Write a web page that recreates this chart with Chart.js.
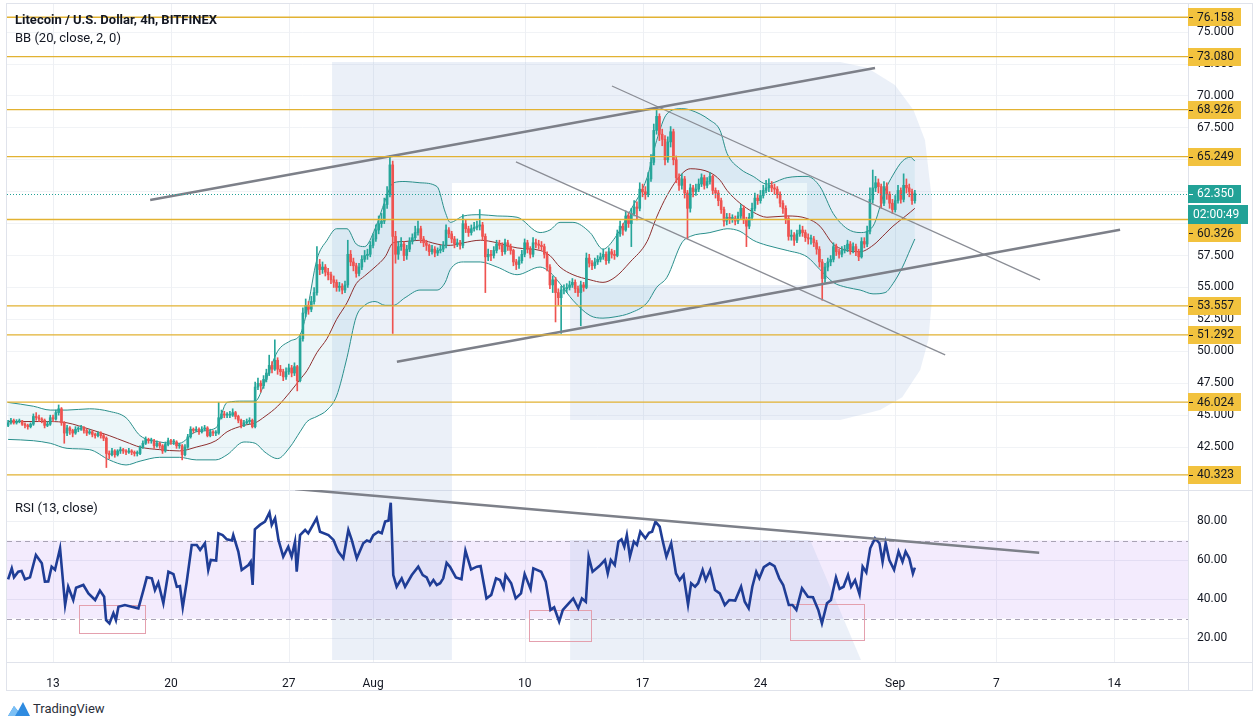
<!DOCTYPE html>
<html>
<head>
<meta charset="utf-8">
<script src="https://cdn.jsdelivr.net/npm/chart.js@4.4.1/dist/chart.umd.min.js"></script>
<style>
  body { margin: 0; background: #fff; width: 1259px; height: 727px; overflow: hidden; position: relative; font-family: Roboto, sans-serif; }
  #mainBox { position: absolute; left: 0; top: 0; width: 1259px; height: 490px; }
  #rsiBox { position: absolute; left: 0; top: 490px; width: 1259px; height: 200px; }
  .line { position: absolute; background: #e0e3eb; }
  .txt { position: absolute; color: #131722; font-size: 13px; white-space: nowrap; z-index: 2; }
  #logo { position: absolute; left: 8px; top: 701px; display: flex; align-items: center; gap: 3px; font-size: 13px; color: #2a2e39; }
</style>
</head>
<body>
<div class="line" style="left:6px;top:3px;width:1247px;height:1px"></div>
<div class="line" style="left:6px;top:490px;width:1247px;height:1px"></div>
<div class="line" style="left:6px;top:662px;width:1247px;height:1px"></div>
<div class="line" style="left:6px;top:690px;width:1247px;height:1px"></div>
<div class="line" style="left:6px;top:3px;width:1px;height:688px"></div>
<div class="line" style="left:1188px;top:3px;width:1px;height:688px"></div>
<div class="line" style="left:1252px;top:3px;width:1px;height:688px"></div>

<div id="mainBox"><canvas id="mainChart"></canvas></div>
<div id="rsiBox"><canvas id="rsiChart"></canvas></div>

<div class="txt" style="left:15px;top:12px;font-weight:700">Litecoin / U.S. Dollar, 4h, BITFINEX</div>
<div class="txt" style="left:15px;top:30px">BB (20, close, 2, 0)</div>
<div class="txt" style="left:15px;top:500px">RSI (13, close)</div>
<div id="logo">
  <svg width="22" height="15" viewBox="0 0 22 15"><path d="M0 15 L6 5 L10 10 L15 1 L22 15 Z" fill="#2f8be0"/><path d="M0 15 L6 5 L10 10 L7 15 Z" fill="#7cc0f5"/></svg>
  <span>TradingView</span>
</div>

<script>
// 4h candles, Jul 10 08:00 -> Sep 2 04:00 (index = candle number)
const firstOpen = 44.2;
const close = [
  44.4,44.6,44.4,44.5,44.55,44.3,44.2,44.1,44.3,44.9,
  44.8,44.7,44.6,44.2,44.3,44.8,44.7,45.2,45.5,44.4,
  43.6,44.0,43.8,43.6,43.9,43.9,44.0,43.8,43.6,43.7,
  43.5,43.4,43.6,43.4,43.2,42.0,41.9,42.2,41.9,42.2,
  42.3,42.2,42.1,42.2,42.1,42.0,42.0,42.5,42.8,43.1,
  43.0,43.0,42.6,42.8,42.6,42.2,42.7,43.0,42.9,42.9,
  42.6,42.6,41.9,42.5,43.3,43.9,43.8,43.9,43.7,43.9,
  44.0,43.4,43.7,43.6,43.6,44.8,45.1,45.0,45.0,45.0,
  45.2,44.9,44.6,44.2,44.4,44.5,44.6,44.1,47.2,47.5,
  47.3,47.8,48.3,48.9,48.6,49.3,48.6,48.4,48.0,48.4,
  48.7,48.3,48.8,47.7,51.0,53.0,53.6,53.3,53.9,54.6,
  56.8,56.4,56.6,56.2,56.0,55.6,55.4,55.0,55.1,54.8,
  55.2,57.6,57.0,56.7,56.1,56.6,57.2,57.5,57.6,58.3,
  58.8,59.5,60.0,60.2,61.5,62.3,64.6,59.0,57.6,58.2,
  58.4,57.5,58.0,58.6,58.9,59.3,59.6,58.8,58.5,58.3,
  57.8,58.0,57.7,57.9,58.0,58.3,59.5,59.2,58.8,58.4,
  58.5,58.3,60.0,59.6,59.3,59.6,59.7,59.8,59.9,59.0,
  57.4,57.6,57.5,57.9,58.4,58.3,57.8,58.5,58.2,57.9,
  57.0,56.8,57.1,57.6,58.5,58.0,57.6,58.5,58.4,58.3,
  58.2,57.6,56.6,55.2,55.6,54.6,54.2,54.8,54.9,55.0,
  55.2,55.4,54.9,54.6,55.2,55.0,57.3,56.9,56.7,57.0,
  57.2,57.4,57.6,57.1,57.8,57.6,57.5,59.2,59.8,59.5,
  60.6,60.0,60.8,61.3,61.2,62.7,62.5,62.3,63.5,64.8,
  67.3,68.4,67.0,66.6,65.0,66.4,67.2,65.0,63.6,63.0,
  63.5,62.4,61.2,62.8,62.5,62.7,63.1,63.6,63.0,63.3,
  63.7,62.6,62.4,61.8,61.1,60.2,60.5,60.4,60.4,60.2,
  60.6,61.2,60.3,59.8,60.5,61.2,62.0,61.8,62.2,62.6,
  62.8,63.0,62.8,62.7,62.3,61.6,61.2,60.4,59.0,59.1,
  58.7,59.2,59.5,59.3,58.9,58.8,58.8,58.5,58.0,57.0,
  55.7,56.6,57.0,57.2,58.2,57.8,57.6,57.9,58.0,58.4,
  57.9,58.2,57.8,57.4,58.6,58.4,59.4,61.9,62.8,63.2,
  62.9,61.6,62.9,62.3,61.6,61.1,61.8,62.6,61.9,63.0,
  62.8,62.5,61.8,62.35
];
const high = [
  44.6,44.75,44.7,44.65,44.7,44.6,44.4,44.3,44.4,45.1,
  45.2,45.0,44.8,44.7,44.5,45.0,45.0,45.4,45.8,45.6,
  44.5,44.2,44.1,43.9,44.1,44.1,44.2,44.1,43.9,43.9,
  43.8,43.6,43.7,43.7,43.5,43.3,42.2,42.4,42.3,42.3,
  42.5,42.4,42.3,42.4,42.3,42.2,42.2,42.6,43.0,43.3,
  43.2,43.2,43.1,43.0,42.9,42.7,42.9,43.2,43.1,43.1,
  43.0,42.8,42.7,42.7,43.5,44.1,44.0,44.1,44.0,44.1,
  44.2,44.1,43.9,43.8,43.8,46.0,45.4,45.3,45.2,45.3,
  45.5,45.3,45.0,44.7,44.6,44.7,44.8,44.7,47.6,47.9,
  47.7,48.1,48.6,49.7,49.2,50.9,49.5,48.9,48.6,48.7,
  49.0,48.9,49.1,48.9,51.3,53.4,54.1,53.9,54.3,55.0,
  58.2,57.2,57.0,56.8,56.5,56.2,55.9,55.6,55.4,55.3,
  55.5,58.7,57.9,57.3,56.9,56.9,57.5,57.9,58.0,58.6,
  59.2,59.9,60.6,60.8,62.0,62.9,65.3,64.9,59.4,58.6,
  58.9,58.6,58.3,58.9,59.2,59.8,60.2,59.8,59.0,58.7,
  58.4,58.3,58.2,58.1,58.3,58.6,59.9,59.7,59.4,59.0,
  58.8,58.7,60.7,60.3,59.8,59.9,60.1,60.2,61.1,60.1,
  59.2,58.0,57.9,58.2,58.7,58.7,58.5,58.8,58.7,58.4,
  58.0,57.2,57.4,57.9,58.8,58.7,58.2,58.9,58.8,58.7,
  58.6,58.4,57.8,56.8,55.9,55.8,54.9,55.1,55.2,55.3,
  55.5,55.7,55.6,55.1,55.5,55.4,57.7,57.6,57.1,57.3,
  57.5,57.7,58.0,57.8,58.1,58.0,57.9,59.5,60.2,60.0,
  61.0,60.9,61.2,61.8,61.7,63.2,63.1,62.9,64.0,65.4,
  67.8,69.1,68.6,67.4,66.9,66.8,67.6,67.4,65.3,63.9,
  63.9,63.7,62.6,63.1,63.0,63.1,63.5,63.9,63.8,63.6,
  64.0,63.8,62.8,62.6,62.0,61.3,60.8,60.8,60.7,60.6,
  60.9,61.5,61.4,60.5,60.8,61.6,62.4,62.3,62.6,63.0,
  63.4,63.5,63.3,63.1,62.9,62.5,61.8,61.4,60.6,59.5,
  59.3,59.5,59.9,59.8,59.5,59.2,59.1,59.0,58.7,58.2,
  57.2,56.9,57.3,57.5,58.5,58.4,58.0,58.2,58.3,58.7,
  58.6,58.5,58.4,58.0,58.9,58.9,59.8,62.8,64.2,63.7,
  63.5,63.1,63.3,63.2,62.5,61.9,62.2,63.0,62.8,63.9,
  63.5,63.1,62.7,62.6
];
const low = [
  44.1,44.3,44.3,44.3,44.4,44.2,44.0,43.9,44.0,44.2,
  44.6,44.5,44.4,44.0,44.1,44.2,44.5,44.6,45.0,44.2,
  42.8,43.4,43.5,43.3,43.5,43.7,43.8,43.6,43.4,43.5,
  43.3,43.2,43.3,43.2,43.0,40.9,41.6,41.8,41.7,41.8,
  42.0,42.0,41.9,42.0,41.9,41.8,41.8,41.9,42.4,42.7,
  42.8,42.8,42.4,42.5,42.4,42.0,42.1,42.6,42.7,42.7,
  42.4,42.4,41.5,41.8,42.4,43.2,43.6,43.7,43.5,43.6,
  43.8,43.3,43.3,43.4,43.4,43.5,44.7,44.8,44.8,44.8,
  44.9,44.7,44.4,44.0,44.1,44.3,44.3,44.0,44.0,47.0,
  46.8,47.1,47.6,48.1,48.3,48.5,48.2,48.1,47.7,47.8,
  48.2,48.0,48.1,46.9,47.6,50.8,52.7,52.9,53.1,53.7,
  54.4,56.0,56.1,55.9,55.6,55.3,55.0,54.7,54.7,54.5,
  54.6,55.0,56.7,56.3,55.8,55.9,56.4,57.0,57.2,57.4,
  58.1,58.6,59.2,59.7,60.0,61.2,62.1,51.4,56.9,57.2,
  57.9,57.1,57.2,57.8,58.4,58.7,59.1,58.5,58.2,57.9,
  57.5,57.6,57.4,57.5,57.7,57.8,58.1,58.9,58.5,58.1,
  58.2,58.0,58.1,59.3,59.0,59.1,59.4,59.5,59.5,58.7,
  54.6,57.1,57.1,57.3,57.7,58.0,57.5,57.6,57.9,57.6,
  56.7,56.4,56.5,56.9,57.4,57.7,57.3,57.4,58.1,58.0,
  57.9,57.3,56.3,54.9,54.6,52.3,53.6,51.4,54.5,54.6,
  54.8,55.0,54.6,54.3,52.0,54.7,54.9,56.6,56.4,56.5,
  56.8,57.0,57.2,56.8,56.9,57.3,57.2,57.4,59.0,59.1,
  59.4,59.7,58.2,60.6,60.3,61.0,62.1,61.9,62.1,63.3,
  64.6,67.0,66.5,66.1,64.6,64.8,66.0,64.6,63.2,62.6,
  62.7,62.0,58.8,60.9,62.1,62.2,62.5,62.9,62.7,62.8,
  63.1,62.3,62.0,61.4,60.8,59.8,59.9,60.0,60.1,59.9,
  60.0,60.4,60.0,58.2,59.6,60.3,61.0,61.5,61.6,62.0,
  62.4,62.5,62.5,62.3,62.0,61.3,60.8,60.0,58.7,58.7,
  58.3,58.5,59.0,59.0,58.6,58.4,58.4,58.2,57.6,56.6,
  54.0,55.4,56.3,56.7,57.0,57.5,57.3,57.4,57.7,57.8,
  57.6,57.7,57.5,57.1,57.3,58.1,58.2,59.2,61.6,62.5,
  62.4,61.2,61.4,61.9,61.2,60.8,60.9,61.6,61.6,61.7,
  62.4,62.1,61.5,61.6
];

// Bollinger Bands (20, 2): [candle, upper, basis, lower]
const bbPoints = [
  [0,46.0,44.5,43.1],[9,45.7,44.5,43.0],[15,45.4,44.5,42.8],[21,45.4,44.4,42.4],
  [29,45.5,43.9,42.3],[36,45.3,43.4,41.5],[42,44.8,42.9,41.1],[47,43.4,42.5,41.4],
  [54,42.9,42.3,41.7],[61,42.8,42.2,41.7],[67,43.7,42.5,41.5],[74,44.0,43.0,41.5],
  [78,46.0,43.7,41.9],[84,46.1,44.2,42.9],[88,46.1,44.4,42.8],[91.5,47.6,44.9,42.1],
  [96,50.0,45.7,41.6],[100.4,50.8,46.8,42.5],[104,51.3,47.8,43.7],[106.5,53.2,48.5,44.5],
  [110,57.2,49.9,44.9],[113.6,58.7,51.0,45.4],[117,59.6,52.5,46.5],[120.7,59.6,53.8,49.5],
  [124,58.4,55.3,52.7],[127,58.2,55.9,53.6],[130.7,59.6,56.6,53.9],[134.3,61.8,57.4,53.6],
  [137.2,63.2,58.5,53.6],[141.4,63.3,58.6,54.2],[146.7,63.2,58.7,54.8],[152.8,62.9,58.4,54.8],
  [155.7,60.9,58.3,55.4],[157.5,60.1,58.3,56.4],[162.2,60.6,58.5,57.0],[168.2,60.7,58.7,57.0],
  [174.2,60.6,58.5,56.6],[181.3,60.5,58.1,56.0],[189.5,59.3,57.9,56.6],[193,59.5,57.5,56.2],
  [196.6,60.1,56.6,55.3],[201.2,60.1,56.0,54.0],[207.3,59.3,55.6,52.8],[211.9,58.0,55.4,52.6],
  [216.2,58.9,55.8,52.7],[221.6,61.0,57.0,53.0],[227.6,63.6,58.6,53.8],[231,66.5,60.5,55.0],
  [234.7,68.6,62.2,55.8],[240,69.0,63.9,58.5],[243,68.9,64.3,59.0],[250,68.1,64.0,59.3],
  [253.6,67.3,63.4,59.5],[256.1,65.5,62.6,59.6],[260.7,64.3,61.6,59.4],[265.4,63.7,60.9,58.7],
  [270.3,63.1,60.5,58.3],[277.5,63.6,60.6,57.9],[284.6,63.7,60.4,57.4],[289.2,62.9,59.8,56.4],
  [293.9,60.8,58.4,55.4],[298.9,59.6,57.9,55.0],[303.5,59.3,57.8,54.8],[308.1,59.8,58.3,54.5],
  [312.4,62.6,59.2,54.6],[315.2,63.8,59.8,55.3],[318.6,64.9,60.4,56.6],[321.4,65.2,60.9,58.0],
  [323,64.9,61.2,58.8]
];

// RSI (13): [candle, value]
const rsiPoints = [
  [0,50.1],[1.3,55.7],[2.1,51.1],[3.6,54.0],[4.8,54.4],[6.0,50.1],[7.8,51.1],[9.9,62.6],
  [12.0,58.3],[13.1,48.9],[14.3,49.0],[15.5,56.6],[16.7,55.0],[18.5,66.0],[20.3,36.9],[21.4,46.3],
  [23.2,39.5],[24.2,45.8],[26.8,47.2],[28.6,42.9],[31.0,39.5],[32.7,44.3],[34.2,41.2],[34.9,29.2],
  [36.1,27.5],[37.5,32.7],[38.4,29.2],[39.3,36.0],[41.6,36.9],[44.0,36.0],[46.4,35.2],[48.2,44.6],
  [49.4,51.1],[51.2,50.6],[52.3,44.6],[53.5,48.4],[55.3,37.8],[57.1,54.0],[58.9,52.8],[60.1,46.3],
  [61.2,46.6],[62.2,35.7],[63.6,48.6],[65.4,67.7],[67.2,67.7],[68.4,65.1],[70.1,68.6],[71.3,54.9],
  [72.2,60.0],[74.1,59.7],[74.9,73.7],[76.4,72.8],[77.9,70.6],[79.7,70.0],[80.2,72.8],[82.0,64.3],
  [83.2,54.9],[85.6,57.4],[86.4,59.1],[87.1,47.2],[87.9,75.7],[89.7,78.0],[91.5,79.7],[93.1,84.3],
  [93.9,78.0],[95.1,81.4],[96.3,70.3],[98.0,61.7],[99.8,66.8],[101.0,61.7],[102.2,69.4],[102.8,54.0],
  [104.0,72.8],[105.8,75.4],[106.9,73.7],[109.9,81.4],[111.1,74.5],[114.1,72.8],[115.9,70.3],[117.6,64.3],
  [119.4,60.9],[121.2,75.4],[122.4,70.3],[124.2,60.9],[126.5,68.6],[127.8,70.0],[128.9,69.4],[130.1,72.8],
  [131.9,74.5],[133.1,73.7],[134.3,79.7],[135.5,80.2],[136.3,89.4],[137.2,52.3],[138.4,46.3],[140.2,50.6],
  [141.4,46.3],[143.8,52.3],[146.1,56.6],[147.7,52.3],[149.1,51.1],[150.3,47.2],[151.5,49.7],[152.7,47.2],
  [153.9,48.1],[155.0,50.6],[156.2,58.5],[157.4,56.5],[159.5,51.1],[161.5,50.1],[162.9,64.8],[164.9,55.2],
  [167.0,56.6],[168.3,56.9],[170.4,40.3],[172.1,42.1],[173.8,50.6],[175.2,49.7],[176.5,45.5],[177.2,52.3],
  [179.2,48.1],[180.8,40.3],[182.7,42.9],[184.0,52.8],[186.1,45.2],[187.1,55.7],[189.9,54.0],[191.5,48.9],
  [193.2,34.4],[194.5,35.7],[195.6,31.3],[196.3,28.4],[197.6,34.4],[199.7,37.8],[201.3,40.3],[203.1,35.2],
  [204.4,40.3],[205.8,38.6],[206.8,61.7],[208.2,54.0],[210.6,56.9],[212.6,60.0],[213.6,53.1],[214.7,60.0],
  [216.1,57.4],[217.4,69.4],[218.5,70.6],[219.5,66.8],[220.4,72.8],[221.5,61.7],[222.9,69.4],[224.0,67.7],
  [225.2,74.5],[227.0,71.1],[228.3,73.9],[229.4,74.5],[230.6,79.7],[232.1,77.1],[233.1,70.3],[234.5,61.7],
  [236.2,68.6],[237.9,53.1],[239.2,49.7],[240.6,52.3],[242.2,37.1],[243.3,48.1],[244.7,46.3],[245.8,48.1],
  [247.4,54.9],[248.5,49.7],[250.1,54.9],[251.8,44.6],[253.5,42.9],[255.3,36.9],[256.9,39.5],[259.0,39.2],
  [261.1,46.3],[262.4,38.6],[263.8,35.2],[265.1,46.3],[266.5,54.0],[267.6,50.6],[269.2,56.3],[271.3,58.3],
  [273.0,56.9],[274.7,50.6],[276.1,47.2],[278.1,36.9],[279.4,36.9],[280.8,34.4],[282.8,45.5],[284.9,41.2],
  [286.7,40.9],[288.6,34.4],[289.9,27.5],[291.7,37.8],[293.1,39.5],[294.9,51.1],[296.2,45.2],[297.6,46.3],
  [299.2,52.3],[300.3,46.3],[301.7,49.7],[303.3,42.4],[304.4,56.6],[305.7,53.6],[307.1,66.0],[308.8,71.1],
  [310.4,68.6],[311.5,59.1],[312.6,68.6],[313.9,60.0],[315.6,55.0],[317.2,64.3],[318.6,59.1],[319.7,64.3],
  [321.0,60.9],[322.3,53.1],[323.0,56.1]
];

const dateTicks = [16, 58, 100, 130, 184, 226, 268, 316, 352, 394];
const dateLabels = ['13', '20', '27', 'Aug', '10', '17', '24', 'Sep', '7', '14'];
const priceTicks = [42.5, 45, 47.5, 50, 52.5, 55, 57.5, 60, 62.5, 65, 67.5, 70, 72.5, 75];
const rsiTicks = [20, 40, 60, 80];
const levels = [76.158, 73.080, 68.926, 65.249, 60.326, 53.557, 51.292, 46.024, 40.323];
const lastPrice = 62.350;
const countdown = '02:00:49';

// drawn trend lines: [[candle, price], [candle, price]]
const wedgeLines = [[[50.6, 61.85], [308.8, 72.19]], [[138.5, 49.18], [396.1, 59.52]]];
const channelLines = [[[215.1, 70.78], [367.6, 55.59]], [[180.9, 64.83], [333.8, 49.72]]];
const rsiTrend = [[102.2, 96.4], [367.3, 63.7]];
// oversold boxes on RSI: [fromCandle, toCandle, topRsi, bottomRsi]
const rsiBoxes = [[25.3, 48.8, 36.9, 22.6], [185.6, 207.7, 34.4, 18.5], [278.5, 304.9, 37.4, 19.0]];

const GREEN = '#26a69a', RED = '#ef5350', GOLD = '#e2b232', TAG = '#f2c23e', TEAL = '#22a297', INK = '#131722';
const X_MIN = -0.4, X_MAX = 420.3;

Chart.defaults.font.family = 'Roboto';
Chart.defaults.font.size = 12;
Chart.defaults.color = INK;

const open = close.map((c, i) => i ? close[i - 1] : firstOpen);
const candleColor = close.map((c, i) => c >= open[i] ? GREEN : RED);

const pts = (arr, k) => arr.map(r => ({ x: r[0], y: r[k] }));
const seg = s => s.map(p => ({ x: p[0], y: p[1] }));

// faint logo watermark, in candle / price units
const logoMain = [[115.4,72.66],[296.4,72.66],[306,72.2],[315.9,70.86],[322.5,68.9],[326.6,66.55],[329.1,61.85],
  [329.1,54.02],[327.8,50.9],[324.9,48.54],[318.5,46.4],[310.6,45.41],[296.4,44.63],[200.2,44.63],[200.2,55.2],
  [284.6,55.2],[284.6,63.18],[158.1,63.18],[158.1,39.0],[115.4,39.0]];
const logoRsi = [
  [[115.4,97],[158.1,97],[158.1,8.7],[115.4,8.7]],
  [[200.2,70.3],[285.7,70.3],[303.8,8.7],[200.2,8.7]]
];
const LOGO_FILL = 'rgba(165,188,222,0.22)';

function poly(ctx, x, y, shape) {
  ctx.beginPath();
  shape.forEach((p, i) => {
    const px = x.getPixelForValue(p[0]), py = y.getPixelForValue(p[1]);
    if (i) ctx.lineTo(px, py); else ctx.moveTo(px, py);
  });
  ctx.closePath();
  ctx.fill();
}

function vGrid(chart) {
  const { ctx, chartArea: a, scales: { x } } = chart;
  ctx.save();
  ctx.strokeStyle = '#eef0f4';
  ctx.lineWidth = 1;
  dateTicks.forEach(t => {
    const px = Math.round(x.getPixelForValue(t)) + 0.5;
    ctx.beginPath(); ctx.moveTo(px, a.top); ctx.lineTo(px, a.bottom); ctx.stroke();
  });
  ctx.restore();
}

function tag(ctx, left, cy, w, text, fill, color) {
  ctx.fillStyle = fill;
  ctx.fillRect(left, Math.round(cy) - 9, w, 18);
  ctx.fillStyle = color;
  ctx.fillRect(left + 1, Math.round(cy), 4, 1);
  ctx.fillText(text, left + 9, cy + 0.5);
}

// keep the plot area exactly where the frame is
const noPad = s => { s.paddingTop = 0; s.paddingBottom = 0; s.paddingLeft = 0; s.paddingRight = 0; };

const mainDecor = {
  id: 'mainDecor',
  beforeDatasetsDraw(chart) {
    const { ctx, scales: { x, y } } = chart;
    vGrid(chart);
    ctx.save();
    ctx.fillStyle = LOGO_FILL;
    poly(ctx, x, y, logoMain);
    ctx.restore();
  },
  afterDatasetsDraw(chart) {
    const { ctx, chartArea: a, scales: { y } } = chart;
    ctx.save();
    ctx.lineWidth = 1.4;
    ctx.strokeStyle = GOLD;
    levels.forEach(v => {
      const py = y.getPixelForValue(v);
      ctx.beginPath(); ctx.moveTo(a.left, py); ctx.lineTo(a.right, py); ctx.stroke();
    });
    const lastY = y.getPixelForValue(lastPrice);
    ctx.lineWidth = 1;
    ctx.strokeStyle = TEAL;
    ctx.setLineDash([1, 2]);
    ctx.beginPath(); ctx.moveTo(a.left, Math.round(lastY) + 0.5); ctx.lineTo(a.right, Math.round(lastY) + 0.5); ctx.stroke();
    ctx.setLineDash([]);

    ctx.font = '12px Roboto';
    ctx.textBaseline = 'middle';
    ctx.textAlign = 'left';
    const cdTop = Math.round(lastY) + 11, cdBot = cdTop + 19;
    levels.forEach(v => {
      let cy = y.getPixelForValue(v);
      if (cy + 9 > cdTop && cy - 9 < cdBot) cy = cdBot + 9;
      tag(ctx, a.right, cy, 53, v.toFixed(3), TAG, INK);
    });
    tag(ctx, a.right, lastY, 53, lastPrice.toFixed(3), TEAL, '#ffffff');
    ctx.fillStyle = TEAL;
    ctx.fillRect(a.right, cdTop, 60, 19);
    ctx.fillStyle = '#ffffff';
    ctx.fillText(countdown, a.right + 5, cdTop + 10);
    ctx.restore();
  }
};

const rsiDecor = {
  id: 'rsiDecor',
  beforeDatasetsDraw(chart) {
    const { ctx, chartArea: a, scales: { x, y } } = chart;
    vGrid(chart);
    ctx.save();
    const y70 = y.getPixelForValue(70), y30 = y.getPixelForValue(30);
    ctx.fillStyle = 'rgba(150,70,240,0.11)';
    ctx.fillRect(a.left, y70, a.right - a.left, y30 - y70);
    ctx.fillStyle = LOGO_FILL;
    logoRsi.forEach(s => poly(ctx, x, y, s));
    ctx.strokeStyle = '#a9a3b5';
    ctx.lineWidth = 1;
    ctx.setLineDash([5, 4]);
    [y70, y30].forEach(py => {
      ctx.beginPath(); ctx.moveTo(a.left, Math.round(py) + 0.5); ctx.lineTo(a.right, Math.round(py) + 0.5); ctx.stroke();
    });
    ctx.setLineDash([]);
    ctx.strokeStyle = '#e4a0ae';
    rsiBoxes.forEach(b => {
      const x0 = Math.round(x.getPixelForValue(b[0])) + 0.5, x1 = Math.round(x.getPixelForValue(b[1])) + 0.5;
      const y0 = Math.round(y.getPixelForValue(b[2])) + 0.5, y1 = Math.round(y.getPixelForValue(b[3])) + 0.5;
      ctx.strokeRect(x0, y0, x1 - x0, y1 - y0);
    });
    ctx.restore();
  }
};

const lineStyle = { pointRadius: 0, borderWidth: 1, fill: false };

const mainChart = new Chart(document.getElementById('mainChart'), {
  type: 'line',
  data: {
    datasets: [
      { ...lineStyle, data: pts(bbPoints, 1), borderColor: '#2a8f8a', fill: '+2', backgroundColor: 'rgba(40,160,185,0.09)', cubicInterpolationMode: 'monotone', order: 6 },
      { ...lineStyle, data: pts(bbPoints, 2), borderColor: '#8e2f2f', cubicInterpolationMode: 'monotone', order: 5 },
      { ...lineStyle, data: pts(bbPoints, 3), borderColor: '#2a8f8a', cubicInterpolationMode: 'monotone', order: 6 },
      { type: 'bar', data: close.map((c, i) => ({ x: i, y: [low[i], high[i]] })), backgroundColor: candleColor, barThickness: 1, grouped: false, order: 4 },
      { type: 'bar', data: close.map((c, i) => ({ x: i, y: [open[i], c] })), backgroundColor: candleColor, barThickness: 2, minBarLength: 1, grouped: false, order: 3 },
      ...wedgeLines.map(s => ({ ...lineStyle, data: seg(s), borderColor: '#7d8089', borderWidth: 2.6, order: 1 })),
      ...channelLines.map(s => ({ ...lineStyle, data: seg(s), borderColor: '#8a8d95', borderWidth: 1.3, order: 1 }))
    ]
  },
  options: {
    responsive: true,
    maintainAspectRatio: false,
    animation: false,
    layout: { autoPadding: false, padding: { left: 7, top: 4, right: 0, bottom: 0 } },
    plugins: { legend: { display: false }, tooltip: { enabled: false } },
    scales: {
      x: { type: 'linear', min: X_MIN, max: X_MAX, display: false, offset: false },
      y: {
        position: 'right', min: 39.14, max: 77.2,
        afterFit: s => { s.width = 71; noPad(s); },
        afterBuildTicks: s => { s.ticks = priceTicks.map(v => ({ value: v })); },
        ticks: { callback: v => v.toFixed(3), padding: 9 },
        grid: { color: '#f1f3f6', drawTicks: false },
        border: { display: false }
      }
    }
  },
  plugins: [mainDecor]
});

const rsiChart = new Chart(document.getElementById('rsiChart'), {
  type: 'line',
  data: {
    datasets: [
      { ...lineStyle, data: seg(rsiPoints), borderColor: '#1f3d96', borderWidth: 2.6, order: 2 },
      { ...lineStyle, data: seg(rsiTrend), borderColor: '#7d8089', borderWidth: 2.6, order: 1 }
    ]
  },
  options: {
    responsive: true,
    maintainAspectRatio: false,
    animation: false,
    layout: { autoPadding: false, padding: { left: 7, top: 0, right: 0, bottom: 0 } },
    plugins: { legend: { display: false }, tooltip: { enabled: false } },
    scales: {
      x: {
        type: 'linear', min: X_MIN, max: X_MAX, offset: false,
        afterFit: s => { s.height = 28; noPad(s); },
        afterBuildTicks: s => { s.ticks = dateTicks.map(v => ({ value: v })); },
        ticks: { callback: (v, i) => dateLabels[i], maxRotation: 0, autoSkip: false, padding: 7 },
        grid: { display: false },
        border: { display: false }
      },
      y: {
        position: 'right', min: 7.7, max: 95.9,
        afterFit: s => { s.width = 71; noPad(s); },
        afterBuildTicks: s => { s.ticks = rsiTicks.map(v => ({ value: v })); },
        ticks: { callback: v => v.toFixed(2), padding: 9 },
        grid: { color: '#eef0f4', drawTicks: false },
        border: { display: false }
      }
    }
  },
  plugins: [rsiDecor]
});
</script>
</body>
</html>
